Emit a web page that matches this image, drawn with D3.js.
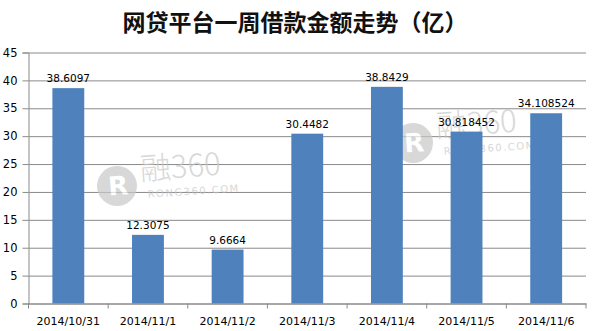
<!DOCTYPE html>
<html>
<head>
<meta charset="utf-8">
<script src="https://cdn.jsdelivr.net/npm/d3@7"></script>
<style>
  body { margin: 0; background: #fff; }
  .tick text { font-family: "DejaVu Sans", sans-serif; }
</style>
</head>
<body>
<div id="chart"></div>
<script>
// chart data
const dates = ["2014/10/31", "2014/11/1", "2014/11/2", "2014/11/3", "2014/11/4", "2014/11/5", "2014/11/6"];
const amounts = [38.6097, 12.3075, 9.6664, 30.4482, 38.8429, 30.818452, 34.108524];
const amountLabels = ["38.6097", "12.3075", "9.6664", "30.4482", "38.8429", "30.818452", "34.108524"];
const yTicks = [0, 5, 10, 15, 20, 25, 30, 35, 40, 45];
const title = "网贷平台一周借款金额走势（亿）";

const W = 595, H = 331;
const padL = 28.5, padR = 586, padT = 52.5, padB = 303.5;

const svg = d3.select("#chart").append("svg")
    .attr("width", W)
    .attr("height", H);

// title
svg.append("text")
    .attr("x", 295)
    .attr("y", 31)
    .attr("text-anchor", "middle")
    .style("font-family", "'Noto Sans CJK SC', sans-serif")
    .style("font-weight", "bold")
    .style("font-size", "23px")
    .attr("fill", "#111")
    .text(title);

const x = d3.scaleBand()
    .domain(dates)
    .range([padL, padR])
    .paddingInner(0.6)
    .paddingOuter(0.3);

const xCat = d3.scaleBand()
    .domain(dates)
    .range([padL, padR]);

const y = d3.scaleLinear()
    .domain([0, 45])
    .range([padB, padT]);

// grid
svg.append("g")
    .attr("transform", "translate(" + padL + ",0)")
    .call(d3.axisLeft(y).tickValues(yTicks).tickSize(-(padR - padL)).tickFormat(""))
    .call(g => g.select(".domain").remove())
    .selectAll("line")
    .attr("stroke", "#8a8a8a");

// watermark
function watermark(cx, cy, rot) {
    const g = svg.append("g")
        .attr("transform", "translate(" + cx + "," + cy + ") rotate(" + rot + ")")
        .attr("opacity", 0.7);
    g.append("circle")
        .attr("r", 20)
        .attr("fill", "#c8c8c8");
    g.append("text")
        .attr("x", 1)
        .attr("y", 9)
        .attr("text-anchor", "middle")
        .style("font-family", "'DejaVu Sans', sans-serif")
        .style("font-weight", "bold")
        .style("font-size", "26px")
        .attr("fill", "#fff")
        .text("R");
    g.append("text")
        .attr("x", 24)
        .attr("y", -4)
        .style("font-family", "'Noto Sans CJK SC', sans-serif")
        .style("font-weight", "300")
        .style("font-size", "31px")
        .attr("fill", "#c8c8c8")
        .text("融360");
    g.append("text")
        .attr("x", 30)
        .attr("y", 14)
        .style("font-family", "'DejaVu Sans', sans-serif")
        .style("font-size", "10px")
        .style("letter-spacing", "1.5px")
        .attr("fill", "#c8c8c8")
        .text("RONG360.COM");
}
watermark(117, 186, -4);
watermark(413, 143, -4);

// bars
svg.selectAll(".bar")
    .data(amounts)
    .enter().append("rect")
    .attr("class", "bar")
    .attr("x", (d, i) => x(dates[i]))
    .attr("width", x.bandwidth())
    .attr("y", d => y(d))
    .attr("height", d => y(0) - y(d))
    .attr("fill", "#4f81bd");

// value labels
svg.selectAll(".lbl")
    .data(amounts)
    .enter().append("text")
    .attr("class", "lbl")
    .attr("x", (d, i) => x(dates[i]) + x.bandwidth() / 2)
    .attr("y", d => y(d) - 6)
    .attr("text-anchor", "middle")
    .style("font-family", "'DejaVu Sans', sans-serif")
    .style("font-size", "10.5px")
    .attr("fill", "#000")
    .text((d, i) => amountLabels[i]);

// y axis
const yAxis = svg.append("g")
    .attr("transform", "translate(" + padL + ",0)")
    .call(d3.axisLeft(y).tickValues(yTicks).tickSize(6).tickPadding(5));
yAxis.select(".domain").attr("stroke", "#8a8a8a");
yAxis.selectAll("line").attr("stroke", "#8a8a8a");
yAxis.selectAll("text").style("font-size", "11.5px").attr("fill", "#000");

// x axis
const xAxis = svg.append("g")
    .attr("transform", "translate(0," + padB + ")")
    .call(d3.axisBottom(xCat).tickSize(0).tickPadding(14));
xAxis.select(".domain").attr("stroke", "#8a8a8a");
xAxis.selectAll("text").style("font-size", "11px").attr("fill", "#000");
xAxis.selectAll(".sep")
    .data(d3.range(dates.length + 1))
    .enter().append("line")
    .attr("class", "sep")
    .attr("x1", i => padL + i * xCat.step())
    .attr("x2", i => padL + i * xCat.step())
    .attr("y1", 0)
    .attr("y2", 5)
    .attr("stroke", "#8a8a8a");
</script>
</body>
</html>
